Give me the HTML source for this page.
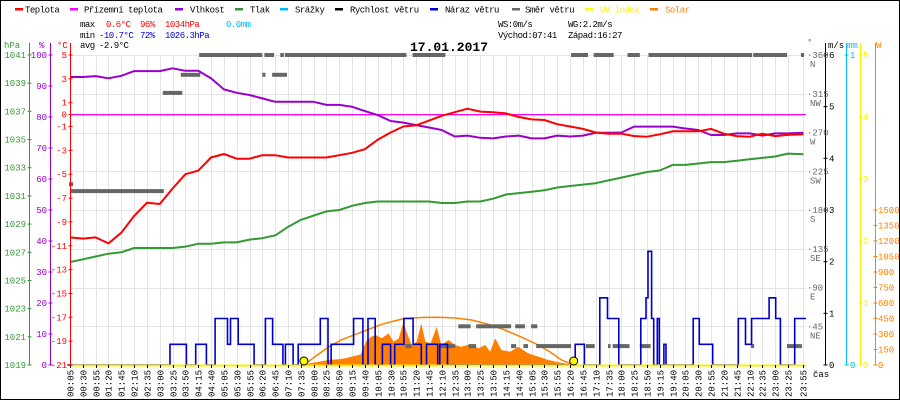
<!DOCTYPE html>
<html><head><meta charset="utf-8"><title>17.01.2017</title>
<style>
html,body{margin:0;padding:0;background:#fff;}
svg{display:block;font-family:"Liberation Mono","DejaVu Sans Mono",monospace;}
</style></head>
<body>
<svg id="chart" width="900" height="400" viewBox="0 0 900 400" xmlns="http://www.w3.org/2000/svg">
<rect x="0.5" y="0.5" width="899" height="399" fill="#fff" stroke="#000"/>
<g id="grid"></g>
<g id="series"></g>
<g id="axes"></g>
<g id="texts">
 <g font-size="9" letter-spacing="-0.5">
  <g><rect x="15" y="8" width="8" height="2.5" fill="#ff0000"/><text x="25" y="12.5">Teplota</text></g>
  <g><rect x="70" y="8" width="8" height="2.5" fill="#ff00ff"/><text x="84" y="12.5">Přízemní teplota</text></g>
  <g><rect x="175" y="8" width="8" height="2.5" fill="#9900cc"/><text x="190" y="12.5">Vlhkost</text></g>
  <g><rect x="235" y="8" width="8" height="2.5" fill="#339933"/><text x="250" y="12.5">Tlak</text></g>
  <g><rect x="280" y="8" width="8" height="2.5" fill="#00bbff"/><text x="295" y="12.5">Srážky</text></g>
  <g><rect x="335" y="8" width="8" height="2.5" fill="#000"/><text x="350" y="12.5">Rychlost větru</text></g>
  <g><rect x="430" y="8" width="8" height="2.5" fill="#0000cc"/><text x="445" y="12.5">Náraz větru</text></g>
  <g><rect x="512" y="8" width="8" height="2.5" fill="#666"/><text x="525" y="12.5">Směr větru</text></g>
  <g><rect x="585" y="8" width="8" height="2.5" fill="#ffff00"/><text x="600" y="12.5" fill="#ffee00">UV index</text></g>
  <g><rect x="650" y="8" width="8" height="2.5" fill="#ff8000"/><text x="665" y="12.5" fill="#ff8000">Solar</text></g>
 </g>
 <g font-size="9" letter-spacing="-0.5">
  <text x="80" y="27">max</text><text x="106" y="27" fill="#ff0000">0.6°C</text><text x="140" y="27" fill="#ff0000">96%</text><text x="165" y="27" fill="#ff0000">1034hPa</text><text x="226" y="27" fill="#00bbff">0.0mm</text>
  <text x="80" y="38">min</text><text x="99" y="38" fill="#0000cc">-10.7°C</text><text x="140" y="38" fill="#0000cc">72%</text><text x="165" y="38" fill="#0000cc">1026.3hPa</text>
  <text x="80" y="48">avg</text><text x="99" y="48">-2.9°C</text>
  <text x="498" y="27">WS:0m/s</text><text x="568" y="27">WG:2.2m/s</text>
  <text x="498" y="38">Východ:07:41</text><text x="568" y="38">Západ:16:27</text>
 </g>
 <text x="449" y="51" text-anchor="middle" font-size="13" font-weight="bold">17.01.2017</text>
 <text x="4" y="48" font-size="9" fill="#339933">hPa</text>
 <text x="39" y="48" font-size="9" fill="#9900cc">%</text>
 <text x="57" y="48" font-size="9" fill="#ff0000">°C</text>
 <text x="807" y="45" font-size="9" fill="#666">°</text>
 <text x="828" y="48" font-size="9">m/s</text>
 <text x="847" y="48" font-size="9" fill="#00bbff">mm</text>
 <text x="876" y="48" font-size="9" fill="#ff8000">W</text>
 <text x="813" y="377" font-size="9">čas</text>
</g>
</svg>
<script>
// ---- data ----
var timeLabels = ["00:05","00:30","00:55","01:20","01:45","02:10","02:35","03:00","03:25","03:50","04:15","04:40","05:05","05:30","05:55","06:20","06:45","07:10","07:35","08:00","08:25","08:50","09:15","09:40","10:05","10:30","10:55","11:20","11:45","12:10","12:35","13:00","13:25","13:50","14:15","14:40","15:05","15:30","15:55","16:20","16:45","17:10","17:35","18:00","18:25","18:50","19:15","19:40","20:05","20:30","20:55","21:20","21:45","22:10","22:35","23:00","23:25","23:55"];
var tempValues = [-10.3,-10.4,-10.3,-10.8,-9.9,-8.5,-7.4,-7.5,-6.2,-5.0,-4.7,-3.6,-3.3,-3.7,-3.7,-3.4,-3.4,-3.6,-3.6,-3.6,-3.6,-3.4,-3.2,-2.9,-2.1,-1.5,-1.0,-0.9,-0.5,-0.1,0.2,0.5,0.25,0.2,0.1,-0.2,-0.4,-0.45,-0.8,-1.0,-1.2,-1.5,-1.6,-1.6,-1.8,-1.85,-1.65,-1.4,-1.4,-1.4,-1.2,-1.6,-1.8,-1.85,-1.6,-1.8,-1.7,-1.65];
var humidityValues = [92.9,92.9,93.2,92.5,93.3,94.8,94.8,94.8,95.7,94.9,94.9,92.5,88.9,87.8,87.1,86.0,84.9,84.9,84.9,84.9,83.9,83.9,83.3,81.9,80.6,78.7,78.2,77.4,76.6,75.8,73.7,74.0,73.3,73.1,73.7,74.0,73.1,73.1,74.0,73.7,74.0,74.9,74.9,75.0,76.9,76.9,76.9,76.9,76.3,75.8,74.2,74.2,74.7,74.7,74.0,74.7,74.7,74.9];
var pressureValues = [1026.3,1026.5,1026.7,1026.9,1027.0,1027.3,1027.3,1027.3,1027.3,1027.4,1027.6,1027.6,1027.7,1027.7,1027.9,1028.0,1028.2,1028.8,1029.3,1029.6,1029.9,1030.0,1030.3,1030.5,1030.6,1030.6,1030.6,1030.6,1030.6,1030.5,1030.5,1030.6,1030.6,1030.8,1031.1,1031.2,1031.3,1031.4,1031.6,1031.7,1031.8,1031.9,1032.1,1032.3,1032.5,1032.7,1032.8,1033.2,1033.2,1033.3,1033.4,1033.4,1033.5,1033.6,1033.7,1033.8,1034.0,1033.95];
var apparentTemp = [0,0];
var gustTimes = [0,200,232,250,271,288,312,318,333,364,386,400,420,425,440,450,493,508,514,558,576,586,600,614,630,638,656,674,690,700,722,726,741,990,1008,1038,1053,1075,1118,1128,1132,1139,1143,1150,1154,1163,1167,1220,1232,1258,1308,1322,1334,1368,1381,1390,1418,1440];
var gustValues = [0,0.4,0,0.4,0,0.9,0.4,0.9,0.4,0,0.9,0.4,0,0.4,0,0.4,0.9,0,0.4,0.9,0,0.9,0,0.4,0,0.4,0.9,0.4,0,0.4,0,0.4,0,0.4,0,1.3,0.9,0,0.9,1.3,2.2,0.9,0,0.9,0,0.4,0,0.9,0.4,0,0.9,0.4,0.9,1.3,0.9,0,0.9,0.9];
var dirStart = [3,7,186,221,257,380,384,399,415,424,659,673,727,762,782,797,865,873,889,904,914,982,1011,1026,1054,1063,1092,1116,1133,1333,1337,1403,1430];
var dirEnd   = [11,188,224,259,380,386,403,428,422,661,671,737,756,786,797,865,875,892,898,916,982,1015,1028,1065,1059,1096,1116,1137,1335,1339,1403,1432,1436];
var dirDeg   = [210,202,316,337,360,337,360,337,360,360,22,360,22,45,22,45,22,45,22,45,22,360,22,360,22,22,360,22,360,22,360,22,360];
var solarTimes = [452,485,510,535,555,572,582,592,601,613,626,636,646,655,661,671,681,690,698,708,720,729,743,756,768,785,801,815,824,834,846,863,879,898,918,937,957,976,987];
var solarValues = [0,26,49,58,81,103,226,274,290,258,306,226,258,419,323,194,226,403,226,210,371,194,242,194,177,200,161,194,129,258,145,129,177,113,81,49,26,10,0];
var solarMaxTimes = [461,485,510,535,562,590,613,636,659,690,724,756,788,820,853,885,918,940,963,987];
var solarMaxValues = [0,90,177,245,297,350,394,425,452,460,462,455,436,395,339,270,194,130,48,0];
var uvMarkerTimes = [461,987];
var tempTicks = [5,3,1,0,-1,-3,-5,-7,-9,-11,-13,-15,-17,-19,-21];
var humTicks = [100,90,80,70,60,50,40,30,20,10,0];
var presTicks = [1041,1039,1037,1035,1033,1031,1029,1027,1025,1023,1021,1019];
var dirTicks = [360,315,270,225,180,135,90,45];
var dirNames = ["N","NW","W","SW","S","SE","E","NE"];
var windTicks = [6,5,4,3,2,1,0];
var uvTicks = [5,4,3,2,1,0];
var solarTicks = [1500,1350,1200,1050,900,750,600,450,300,150,0];

// ---- scales ----
var X0=70, X1=806, YT=55, YB=365;
function xOf(t){ return X0 + (t-5)*(X1-X0)/(1435); }
function labelMin(s){ var p=s.split(':'); return (+p[0])*60+(+p[1]); }
function yTemp(v){ return YT + (5-v)*(YB-YT)/26; }
function yHum(v){ return YT + (100-v)*(YB-YT)/100; }
function yPres(v){ return YT + (1041-v)*(YB-YT)/22; }
function yDir(v){ return YB - v*(YB-YT)/360; }
function yWind(v){ return YB - v*(YB-YT)/6; }
function yUV(v){ return YB - v*(YB-YT)/5; }
function ySol(v){ return YB - v*0.1033; }

var NS='http://www.w3.org/2000/svg';
function mk(parent, tag, attrs){ var e=document.createElementNS(NS,tag); for(var k in attrs) e.setAttribute(k,attrs[k]); parent.appendChild(e); return e; }
var grid=document.getElementById('grid'), ser=document.getElementById('series'), axes=document.getElementById('axes');

// grid
timeLabels.forEach(function(lb){
  var x=Math.round(xOf(labelMin(lb)))+0.5;
  var l=mk(grid,'line',{x1:x,y1:YT,x2:x,y2:YB,stroke:'#e4e4e4','stroke-width':1});
  
  
  var tk=mk(axes,'line',{x1:x,y1:YB,x2:x,y2:YB+3,stroke:'#000','stroke-width':1});
  
  
  var tx=mk(axes,'text',{x:0,y:0,transform:'translate('+(x+3)+',397) rotate(-90)','font-size':9});
  tx.textContent=lb;
  
  
});
dirTicks.concat([360]).forEach(function(d){
  var y=Math.round(yDir(d))+0.5;
  var l=mk(grid,'line',{x1:X0,y1:y,x2:X1,y2:y,stroke:'#e4e4e4','stroke-width':1});
  
  
});

// solar fill
(function(){
  var d='M'+xOf(solarTimes[0])+','+YB;
  for(var i=0;i<solarTimes.length;i++) d+=' L'+xOf(solarTimes[i]).toFixed(1)+','+ySol(solarValues[i]).toFixed(1);
  d+=' L'+xOf(solarTimes[solarTimes.length-1])+','+YB+' Z';
  var p=mk(ser,'path',{d:d,fill:'#ff8000'});
  
  
  var pts=solarMaxTimes.map(function(t,i){return xOf(t).toFixed(1)+','+ySol(solarMaxValues[i]).toFixed(1);}).join(' ');
  var m=mk(ser,'polyline',{points:pts,fill:'none',stroke:'#ff8000','stroke-width':1.5});
  
  
})();

// wind direction bars
dirDeg.forEach(function(d,i){
  var x1=xOf(dirStart[i]), x2=xOf(dirEnd[i]);
  var r=mk(ser,'rect',{x:x1.toFixed(1),y:(yDir(d)-2).toFixed(1),width:Math.max(2,x2-x1).toFixed(1),height:4,fill:'#666'});
  
  
});

// apparent temperature (magenta)
(function(){
  var l=mk(ser,'line',{x1:X0,y1:yTemp(apparentTemp[0]),x2:X1,y2:yTemp(apparentTemp[1]),stroke:'#ff00ff','stroke-width':1.2});
  
  
})();

function line(vals, yf, color, w, name){
  var pts=vals.map(function(v,i){return xOf(labelMin(timeLabels[i])).toFixed(1)+','+yf(v).toFixed(1);}).join(' ');
  var p=mk(ser,'polyline',{points:pts,fill:'none',stroke:color,'stroke-width':w,'stroke-linejoin':'round'});
  
  
}
line(pressureValues,yPres,'#339933',2,'pressure-line');
line(humidityValues,yHum,'#9900cc',2,'humidity-line');
line(tempValues,yTemp,'#ff0000',2,'temperature-line');

// gust step line
(function(){
  var d='';
  for(var i=0;i<gustTimes.length;i++){
    var x=xOf(gustTimes[i]).toFixed(1), y=yWind(gustValues[i]).toFixed(1);
    if(i===0) d='M'+x+','+y; else d+=' L'+x+','+yWind(gustValues[i-1]).toFixed(1)+' L'+x+','+y;
  }
  var p=mk(ser,'path',{d:d,fill:'none',stroke:'#0000cc','stroke-width':1.6});
  
  
})();

// baseline (UV 0)
(function(){
  var l=mk(ser,'line',{x1:X0,y1:YB+0.5,x2:X1,y2:YB+0.5,stroke:'#ffee00','stroke-width':2});
  
  
  uvMarkerTimes.forEach(function(t){
    var c=mk(ser,'circle',{cx:xOf(t).toFixed(1),cy:YB-4,r:4,fill:'#ffff00',stroke:'#000','stroke-width':1});
    
    
  });
})();

// left axes
function vAxis(x, color, ticks, yf, labelX, name){
  var l=mk(axes,'line',{x1:x,y1:YT-12,x2:x,y2:YB,stroke:color,'stroke-width':1});
  
  
  ticks.forEach(function(v){
    var y=yf(v);
    var t=mk(axes,'line',{x1:x-2,y1:y,x2:x+2,y2:y,stroke:color});
    
    
    var tx=mk(axes,'text',{x:labelX,y:y+3,fill:color,'font-size':9,'text-anchor':labelX<x?'end':'start'});
    tx.textContent=String(v);
    
    
  });
}
vAxis(29.5,'#339933',presTicks,yPres,26,'pressure-axis');
vAxis(50.5,'#9900cc',humTicks,yHum,47,'humidity-axis');
vAxis(70.5,'#ff0000',tempTicks,yTemp,67,'temperature-axis');
vAxis(825.5,'#000',windTicks,yWind,829,'wind-axis');
vAxis(846.5,'#00bbff',[1,0],function(v){return YB-v*(YB-YT);},850,'rain-axis');
vAxis(860.5,'#ffee00',uvTicks,yUV,863,'uv-axis');
vAxis(875.5,'#ff8000',solarTicks.slice(0,11),ySol,878,'solar-axis');
// remove solar axis line above 1500 area? keep full
// direction labels
dirTicks.forEach(function(d,i){
  var y=yDir(d);
  var t=mk(axes,'text',{x:807,y:y+3,fill:'#666','font-size':9});
  t.textContent='·'+d;
  
  
  var n=mk(axes,'text',{x:810,y:y+12,fill:'#666','font-size':9});
  n.textContent=dirNames[i];
  
  
});
</script>
</body></html>
